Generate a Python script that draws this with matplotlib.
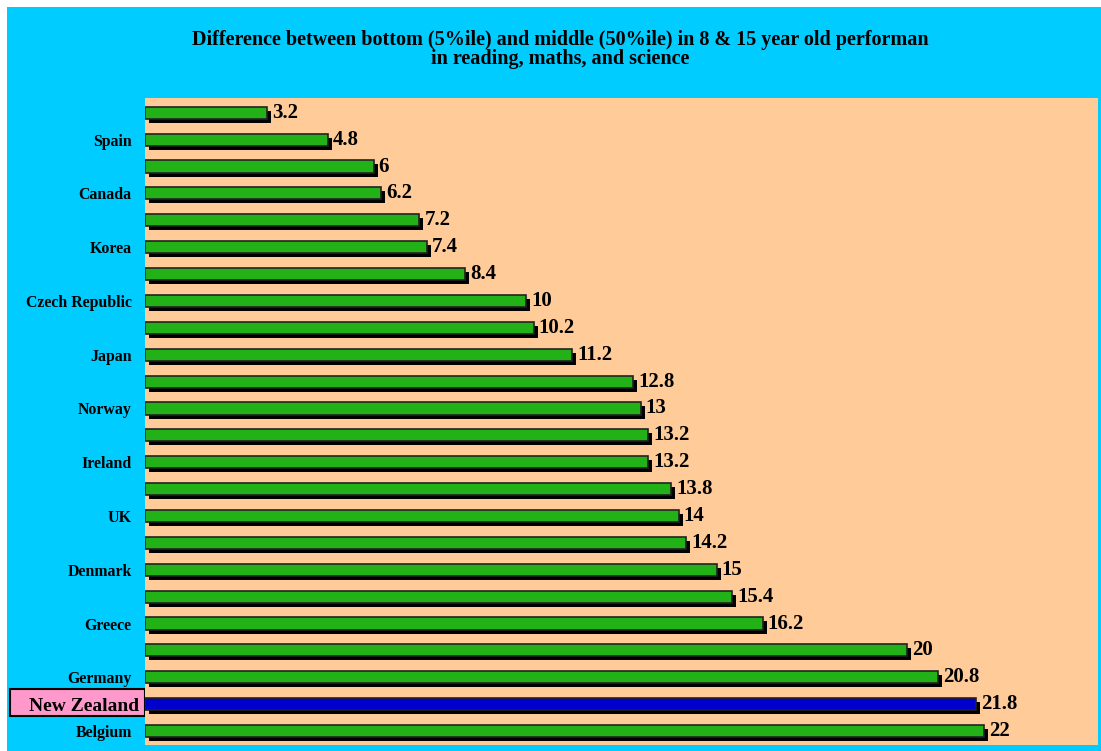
"""Horizontal bar chart: bottom vs middle performance gap, with drop-shadow bars."""
import matplotlib
matplotlib.use("Agg")
import matplotlib.pyplot as plt
import matplotlib.transforms as mtransforms
from matplotlib.patches import Rectangle

countries = ["", "Spain", "", "Canada", "", "Korea", "", "Czech Republic", "",
             "Japan", "", "Norway", "", "Ireland", "", "UK", "", "Denmark", "",
             "Greece", "", "Germany", "New Zealand", "Belgium"]
values = [3.2, 4.8, 6, 6.2, 7.2, 7.4, 8.4, 10, 10.2, 11.2, 12.8, 13, 13.2, 13.2,
          13.8, 14, 14.2, 15, 15.4, 16.2, 20, 20.8, 21.8, 22]
value_labels = ["3.2", "4.8", "6", "6.2", "7.2", "7.4", "8.4", "10", "10.2", "11.2",
                "12.8", "13", "13.2", "13.2", "13.8", "14", "14.2", "15", "15.4",
                "16.2", "20", "20.8", "21.8", "22"]
highlight = "New Zealand"
title = ("Difference between bottom (5%ile) and middle (50%ile) in 8 & 15 year old performan\n"
         "in reading, maths, and science")

CYAN = "#00CCFF"
PEACH = "#FFCC99"
GREEN = "#22B218"
BLUE = "#0000CC"

plt.rcParams["font.family"] = ["Liberation Serif", "DejaVu Serif"]

W, H = 1101, 751
fig = plt.figure(figsize=(W / 100, H / 100), dpi=100, facecolor="white")
fig.patches.append(Rectangle((7 / W, 0), 1 - 7 / W, 1 - 7 / H, transform=fig.transFigure,
                             facecolor=CYAN, edgecolor="none", zorder=-10))

ax = fig.add_axes([145 / W, 6 / H, (1098 - 145) / W, (745 - 98) / H])
ax.set_facecolor(PEACH)
for s in ax.spines.values():
    s.set_visible(False)

ypos = list(range(len(values)))
colors = [BLUE if c == highlight else GREEN for c in countries]

# shadow bars, offset down/right
shadow = mtransforms.offset_copy(ax.transData, fig=fig, x=4, y=-4, units="dots")
ax.barh(ypos, values, height=0.45, color="black", transform=shadow, zorder=2)
ax.barh(ypos, values, height=0.45, color=colors, edgecolor="#222222", linewidth=1.2, zorder=3)

for y, v, lab in zip(ypos, values, value_labels):
    ax.annotate(lab, (v, y), xytext=(5, 0), textcoords="offset pixels",
                ha="left", va="center", fontsize=15, fontweight="bold", zorder=4)

ax.set_xlim(0, 25)
ax.set_ylim(23.52, -0.55)
ax.set_xticks([])
ax.set_yticks(ypos)
ax.set_yticklabels(countries, fontsize=11.4, fontweight="bold")
ax.tick_params(axis="y", length=0, pad=9.5)

for i, t in enumerate(ax.get_yticklabels()):
    if t.get_text() == highlight:
        t.set_fontsize(14)
        ax.yaxis.get_major_ticks()[i].set_pad(4.5)

# pink highlight box behind the New Zealand label
fig.patches.append(Rectangle((10 / W, (H - 716) / H), 135 / W, 27 / H,
                             transform=fig.transFigure, facecolor="#FF99CC",
                             edgecolor="black", linewidth=1.5, zorder=-5))

fig.text(0.5086, 0.934, title, ha="center", va="center", fontsize=14.5,
         fontweight="bold", linespacing=0.95)

fig.savefig("out.png", dpi=100, facecolor=fig.get_facecolor())
